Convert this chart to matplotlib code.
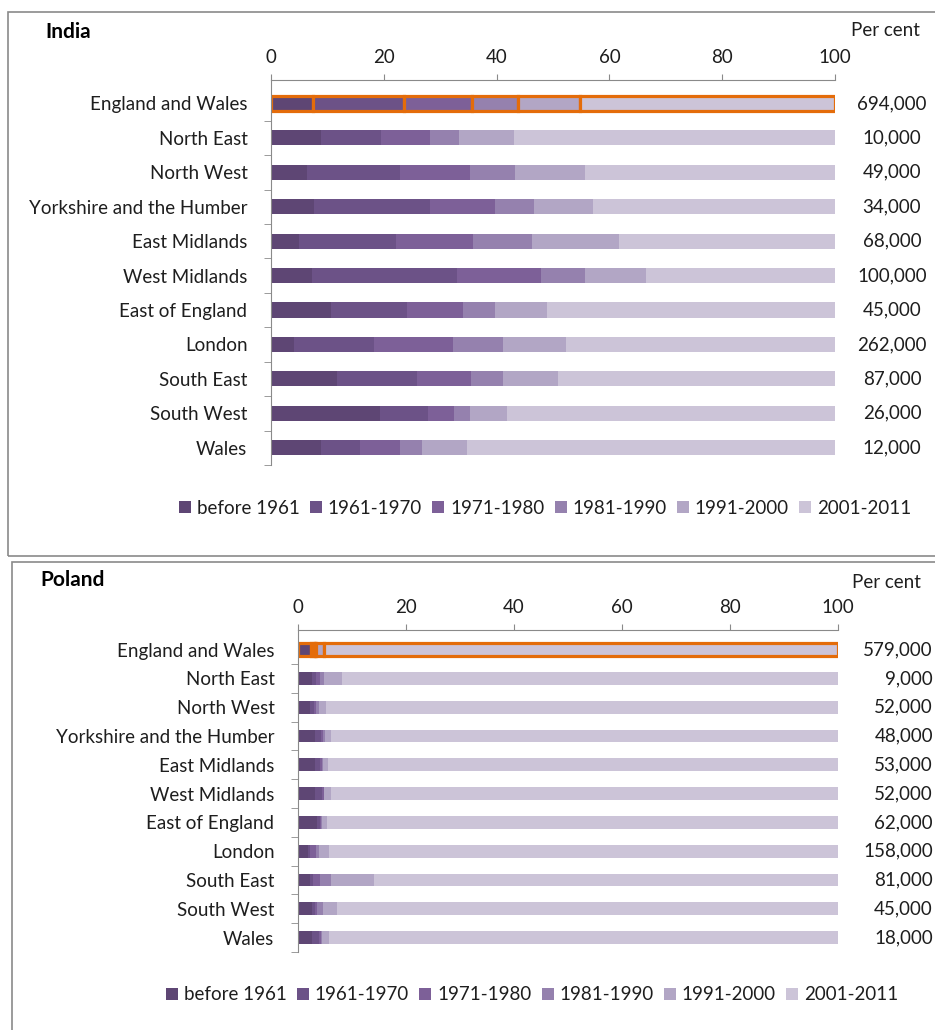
import numpy as np
import matplotlib
matplotlib.use('Agg')
import matplotlib.pyplot as plt
from matplotlib.patches import Patch, Rectangle
from matplotlib import transforms

plt.rcParams['font.family'] = ['Lato', 'DejaVu Sans']

regions = ['England and Wales', 'North East', 'North West', 'Yorkshire and the Humber',
           'East Midlands', 'West Midlands', 'East of England', 'London',
           'South East', 'South West', 'Wales']
periods = ['before 1961', '1961-1970', '1971-1980', '1981-1990', '1991-2000', '2001-2011']
colours = ['#5E4674', '#6C5287', '#7D6098', '#9581AE', '#B2A6C5', '#CCC4D8']

# per cent arriving in each period, one row per region
india_pct = [
    [7.4, 16.2, 12.1, 8.1, 11.0, 45.2],
    [8.9, 10.6, 8.7, 5.1, 9.7, 57.0],
    [6.3, 16.5, 12.5, 7.9, 12.5, 44.3],
    [7.7, 20.5, 11.6, 6.9, 10.4, 42.9],
    [4.9, 17.3, 13.7, 10.4, 15.4, 38.3],
    [7.2, 25.8, 14.8, 7.9, 10.8, 33.5],
    [10.6, 13.6, 9.9, 5.7, 9.1, 51.1],
    [4.1, 14.2, 13.9, 9.0, 11.1, 47.7],
    [11.7, 14.2, 9.6, 5.7, 9.7, 49.1],
    [19.4, 8.5, 4.6, 2.8, 6.5, 58.2],
    [8.9, 6.8, 7.1, 4.0, 8.0, 65.2],
]
india_totals = [694000, 10000, 49000, 34000, 68000, 100000, 45000, 262000, 87000, 26000, 12000]

poland_pct = [
    [2.4, 0.5, 0.3, 0.2, 1.4, 95.2],
    [2.6, 0.8, 0.7, 0.8, 3.3, 91.8],
    [2.3, 0.7, 0.4, 0.4, 1.4, 94.8],
    [3.1, 1.1, 0.5, 0.3, 1.2, 93.8],
    [3.1, 0.9, 0.4, 0.2, 0.9, 94.5],
    [3.1, 1.3, 0.4, 0.1, 1.3, 93.8],
    [3.6, 0.5, 0.2, 0.1, 1.0, 94.6],
    [1.8, 0.5, 1.1, 0.4, 2.0, 94.2],
    [2.3, 0.5, 1.2, 2.2, 7.9, 85.9],
    [2.6, 0.6, 0.4, 1.0, 2.7, 92.7],
    [2.6, 1.2, 0.4, 0.2, 1.4, 94.2],
]
poland_totals = [579000, 9000, 52000, 48000, 53000, 52000, 62000, 158000, 81000, 45000, 18000]

W, H = 935, 1030
fig = plt.figure(figsize=(W / 100, H / 100), dpi=100)
txt = '#1e1e1e'
grey = '#8a8a8a'
fs = 13.5


def panel(box, pct, totals, title, title_at, pc_at, val_x, val_ha, leg_at):
    l, t, r, b = box
    ax = fig.add_axes([l / W, 1 - b / H, (r - l) / W, (b - t) / H])
    pct = np.array(pct)
    y = np.arange(len(regions))
    left = np.zeros(len(regions))
    edges = ['#E46C0A'] + ['none'] * (len(regions) - 1)
    lws = [2.3] + [0] * (len(regions) - 1)
    for j in range(len(periods)):
        ax.barh(y, pct[:, j], left=left, height=0.44, color=colours[j],
                edgecolor=edges, linewidth=lws)
        left += pct[:, j]
    ax.set_xlim(0, 100)
    ax.set_ylim(len(regions) - 0.5, -0.68)
    ax.xaxis.tick_top()
    ax.set_xticks(range(0, 101, 20))
    ax.tick_params(axis='x', length=4, color=grey, pad=6, labelsize=fs, labelcolor=txt)
    ax.set_yticks(y, regions)
    ax.tick_params(axis='y', which='major', length=0, pad=17, labelsize=fs, labelcolor=txt)
    ax.set_yticks(np.arange(0.5, len(regions), 1), minor=True)
    ax.tick_params(axis='y', which='minor', length=5, color=grey)
    for s in ['right', 'bottom']:
        ax.spines[s].set_visible(False)
    for s in ['top', 'left']:
        ax.spines[s].set_color(grey)
    tr = transforms.blended_transform_factory(fig.transFigure, ax.transData)
    for i, v in enumerate(totals):
        ax.text(val_x / W, i, f'{v:,}', transform=tr, ha=val_ha, va='center',
                fontsize=fs, color=txt, clip_on=False)
    fig.text(title_at[0] / W, 1 - title_at[1] / H, title, fontsize=15,
             fontweight='bold', color='black', va='center')
    fig.text(pc_at[0] / W, 1 - pc_at[1] / H, 'Per cent', fontsize=fs,
             color=txt, ha='center', va='center')
    handles = [Patch(facecolor=c, edgecolor='none') for c in colours]
    fig.legend(handles, periods, loc='center', ncol=6, frameon=False,
               bbox_to_anchor=(leg_at[0] / W, 1 - leg_at[1] / H),
               fontsize=fs, handlelength=0.65, handleheight=0.65,
               handletextpad=0.3, columnspacing=0.55, labelcolor=txt)
    return ax


panel((271, 80, 835, 465), india_pct, india_totals, 'India', (45, 32),
      (885, 30), 892, 'center', (545, 508))
panel((298, 630, 838, 952), poland_pct, poland_totals, 'Poland', (40, 580),
      (886, 582), 933, 'right', (532, 995))

fig.add_artist(Rectangle((8 / W, 1 - 556 / H), 940 / W, 544 / H, transform=fig.transFigure,
                         fill=False, edgecolor=grey, linewidth=1.2))
fig.add_artist(Rectangle((12 / W, 1 - 1045 / H), 940 / W, 483 / H, transform=fig.transFigure,
                         fill=False, edgecolor=grey, linewidth=1.2))

fig.savefig('out.png', dpi=100)
